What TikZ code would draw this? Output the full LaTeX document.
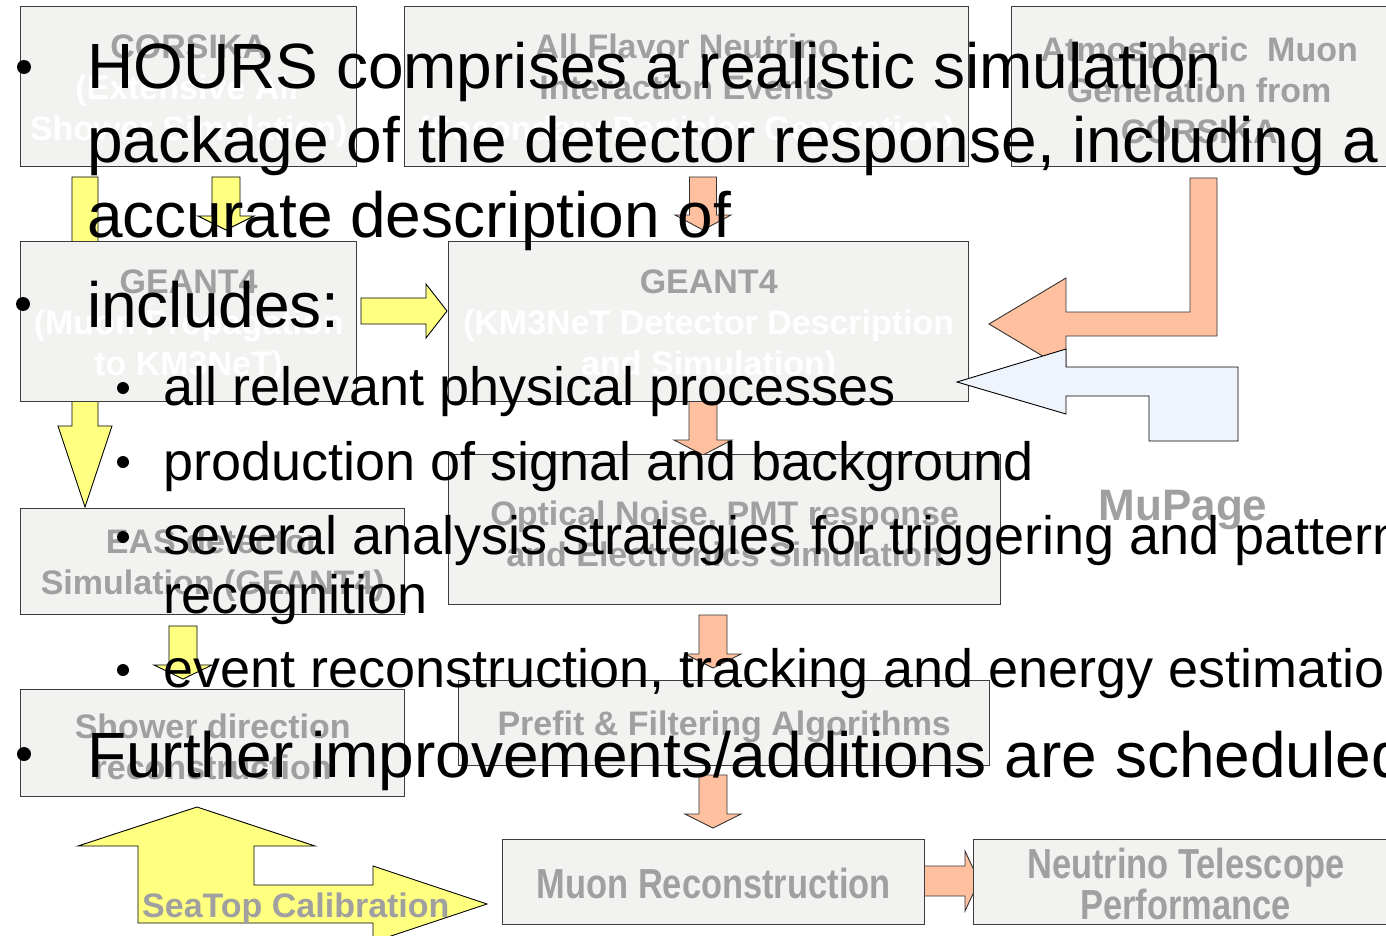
\documentclass[tikz,border=0pt]{standalone}
\usepackage{fontspec}
\setmainfont{Liberation Sans}
\newfontfamily\narrowfont[FakeStretch=0.82]{Liberation Sans}
\definecolor{boxfill}{RGB}{242,242,240}
\definecolor{boxtxt}{RGB}{160,160,160}
\definecolor{boxline}{RGB}{60,60,60}
\definecolor{yel}{RGB}{255,255,128}
\definecolor{sal}{RGB}{255,192,160}
\definecolor{lblue}{RGB}{238,243,252}
% down block arrow: style, xc, ytop, ytip, shaft half, head half, head length
\newcommand\dnblk[7]{\draw[#1] (#2-#5,#3) -- (#2+#5,#3) -- (#2+#5,#4-#7) -- (#2+#6,#4-#7) -- (#2,#4) -- (#2-#6,#4-#7) -- (#2-#5,#4-#7) -- cycle;}
% right block arrow: style, yc, xleft, xtip, shaft half, head half, head length
\newcommand\rtblk[7]{\draw[#1] (#3,#2-#5) -- (#4-#7,#2-#5) -- (#4-#7,#2-#6) -- (#4,#2) -- (#4-#7,#2+#6) -- (#4-#7,#2+#5) -- (#3,#2+#5) -- cycle;}
\newcommand\gt[1]{\textcolor{boxtxt}{#1}}
\newcommand\wt[1]{\textcolor{white}{#1}}
\begin{document}
\begin{tikzpicture}[x=1pt,y=-1pt,
  box/.style={draw=boxline, line width=1.4pt, fill=boxfill, inner sep=0pt, anchor=north west},
  btext/.style={inner sep=0pt, align=center, yshift=-4pt, font=\bfseries\fontsize{34}{41}\selectfont},
  ntext/.style={inner sep=0pt, align=center, yshift=-1.5pt, font=\narrowfont\bfseries\fontsize{42}{41}\selectfont},
  yarr/.style={draw=black, line width=0.9pt, fill=yel, line join=miter},
  sarr/.style={draw=black!80, line width=0.9pt, fill=sal, line join=miter},
  barr/.style={draw=black, line width=0.9pt, fill=lblue, line join=miter},
  main/.style={anchor=base west, inner sep=0pt, font=\fontsize{64}{74}\selectfont},
  sub/.style={anchor=base west, inner sep=0pt, font=\fontsize{54}{60}\selectfont},
  label/.style={text=boxtxt, inner sep=0pt, font=\bfseries\fontsize{34}{41}\selectfont}]
\useasboundingbox (0,0) rectangle (1386,936);
\clip (0,0) rectangle (1386,936);
\fill[white] (0,0) rectangle (1386,936);

% arrows beneath boxes
\dnblk{yarr}{85}{177}{272}{13}{27}{16}
\dnblk{yarr}{226}{177}{230}{14}{28}{14}
\rtblk{yarr}{311}{361}{447}{13}{27}{21}
\dnblk{yarr}{85}{401}{507}{13}{27}{81}
\dnblk{yarr}{183}{626}{679}{14}{29}{14}
\dnblk{sarr}{703}{177}{230}{13.5}{28}{15}
\dnblk{sarr}{703}{401}{455}{14}{29}{15}
\dnblk{sarr}{713}{615}{668}{14}{28}{14}
\dnblk{sarr}{713}{775}{828}{14}{28}{14}
\rtblk{sarr}{881}{924}{979}{15}{30}{14}
% bent salmon arrow from atmospheric muon box
\draw[sarr] (1190,178) -- (1217,178) -- (1217,336) -- (1066,336) -- (1066,370) -- (989,324)
  -- (1066,278) -- (1066,312) -- (1190,312) -- cycle;
% SeaTop calibration double arrow
\draw[yarr] (138,923) -- (373,923) -- (373,942) -- (487,904) -- (373,866) -- (373,885)
  -- (254,885) -- (254,846) -- (315,846) -- (197,807) -- (78,846) -- (138,846) -- cycle;

% boxes
\node[box, minimum width=336, minimum height=160] (corsika) at (20,6) {};
\node[btext] (corsikat) at (corsika.center) {\gt{CORSIKA}\\\wt{(Extensive Air}\\\wt{Shower Simulation)}};
\node[box, minimum width=564, minimum height=160] (allflav) at (404,6) {};
\node[btext] (allflavt) at (allflav.center) {\gt{All Flavor Neutrino}\\\gt{Interaction Events}\\\wt{(Secondary Particles Generation)}};
\node[box, minimum width=375, minimum height=160] (atmmuon) at (1011,6) {};
\node[btext] (atmmuont) at (atmmuon.center) {\gt{Atmospheric\ \ Muon}\\\gt{Generation from}\\\gt{CORSIKA}};
\node[box, minimum width=336, minimum height=160] (geantmu) at (20,241) {};
\node[btext] (geantmut) at (geantmu.center) {\gt{GEANT4}\\\wt{(Muon Propagation}\\\wt{to KM3NeT)}};
\node[box, minimum width=520, minimum height=160] (geantdet) at (448,241) {};
\node[btext] (geantdett) at (geantdet.center) {\gt{GEANT4}\\\wt{(KM3NeT Detector Description}\\\wt{and Simulation)}};
\node[box, minimum width=552, minimum height=150] (optical) at (448,454) {};
\node[btext] (opticalt) at (optical.center) {\gt{Optical Noise, PMT response}\\\gt{and Electronics Simulation}};
\node[box, minimum width=384, minimum height=106] (eas) at (20,508) {};
\node[btext] (east) at (eas.center) {\gt{EAS detector}\\\gt{Simulation (GEANT4)}};
\node[box, minimum width=531, minimum height=85] (prefit) at (458,680) {};
\node[btext] (prefitt) at (prefit.center) {\gt{Prefit \& Filtering Algorithms}};
\node[box, minimum width=384, minimum height=107] (shower) at (20,689) {};
\node[btext] (showert) at (shower.center) {\gt{Shower direction}\\\gt{reconstruction}};
\node[box, minimum width=422, minimum height=85] (muonrec) at (502,839) {};
\node[ntext] (muonrect) at (muonrec.center) {\gt{Muon Reconstruction}};
\node[box, minimum width=424, minimum height=85] (nutel) at (973,839) {};
\node[ntext] (nutelt) at (nutel.center) {\gt{Neutrino Telescope}\\\gt{Performance}};

% MuPage arrow (over the detector box)
\draw[barr] (957,382) -- (1066,349) -- (1066,367) -- (1238,367) -- (1238,441) -- (1149,441)
  -- (1149,396) -- (1066,396) -- (1066,414) -- cycle;

% grey labels
\node[label, anchor=base, font=\bfseries\fontsize{44}{50}\selectfont] (mupage) at (1183,520) {MuPage};
\node[label, anchor=base west] (seatop) at (142,917) {SeaTop Calibration};

% bullet text
\fill (24,67) circle (7);
\fill (23,304) circle (7);
\fill (24,754) circle (7);
\fill (123,388) circle (6);
\fill (123,462) circle (6);
\fill (123,537) circle (6);
\fill (123,670) circle (6);
\node[main] (l1) at (87,89) {HOURS comprises a realistic simulation};
\node[main] (l2) at (87,163) {package of the detector response, including a};
\node[main] (l3) at (87,237) {accurate description of};
\node[main] (l4) at (87,327) {includes:};
\node[sub] (s1) at (163,405) {all relevant physical processes};
\node[sub] (s2) at (163,480) {production of signal and background};
\node[sub] (s3) at (163,554) {several analysis strategies for triggering and pattern};
\node[sub] (s3b) at (163,613) {recognition};
\node[sub] (s4) at (163,687) {event reconstruction, tracking and energy estimation};
\node[main] (l5) at (87,777) {Further improvements/additions are scheduled};
\end{tikzpicture}
\end{document}
